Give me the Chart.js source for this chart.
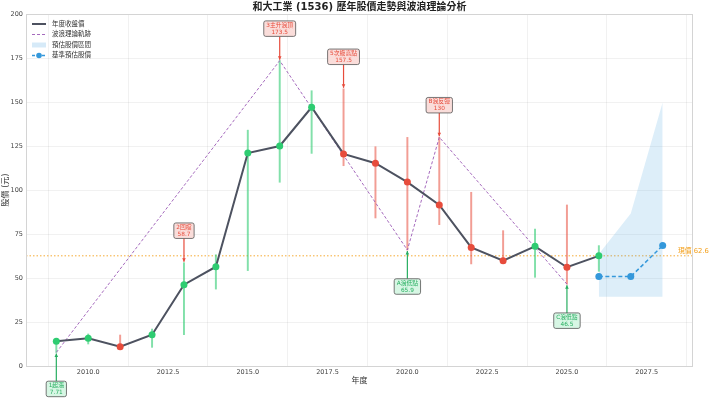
<!DOCTYPE html>
<html><head><meta charset="utf-8">
<script src="https://cdn.jsdelivr.net/npm/chart.js"></script>
<style>html,body{margin:0;padding:0;background:#fff}#wrap{width:710px;height:400px}</style>
</head><body><div id="wrap"><canvas id="c" width="710" height="400"></canvas></div>
<script>
// ---- data ----
const years   = [2009,2010,2011,2012,2013,2014,2015,2016,2017,2018,2019,2020,2021,2022,2023,2024,2025,2026];
const closes  = [14.0,15.7,11.0,17.8,46.2,56.4,121.0,125.0,147.0,120.5,115.2,104.5,91.5,67.4,59.8,68.0,56.1,62.6];
const highs   = [14.5,18.2,17.6,21.0,58.7,63.2,134.0,173.5,156.4,157.5,124.6,129.9,130.0,98.7,76.9,77.8,91.5,68.4];
const lows    = [7.71,12.5,10.6,10.6,17.8,43.7,54.2,104.4,120.8,113.8,84.1,65.9,80.3,58.0,59.8,50.4,46.5,53.8];
const waveYears  = [2009,2016,2020,2021,2025];
const waveValues = [7.71,173.5,65.9,130,46.5];
const annYears  = [2009,2013,2016,2018,2020,2021,2025];
const annValues = [7.71,58.7,173.5,157.5,65.9,130,46.5];
const annLabels = ['1起漲','2回檔','3主升浪頂','5次級高點','A浪低點','B浪反彈','C浪低點'];
const annKinds  = ['low','high','high','high','low','high','low'];
const forecastYears = [2026,2027,2028];
const forecastBase  = [50.8,50.8,68.4];
const forecastLow   = [39.4,39.4,39.4];
const forecastHigh  = [63.6,86.7,149.8];
const currentPrice = 62.6;
const yTicks = [0,25,50,75,100,125,150,175,200];
const xTickStep = 2.5;
const titleText = '和大工業 (1536) 歷年股價走勢與波浪理論分析';
const legendLabels = ['年度收盤價','波浪理論軌跡','預估股價區間','基準預估股價'];

// ---- styles ----
const FF = "'DejaVu Sans','Noto Sans CJK TC',sans-serif";
const GREEN = '#2ecc71', RED = '#e74c3c', LINE = '#4d5260', PURPLE = '#9b59b6', BLUE = '#3498db', ORANGE = '#f39c12';
const up = closes.map((c,i)=> i===0 || c >= closes[i-1]);
const ptColors = up.map(u=> u ? GREEN : RED);
const barColors = up.map(u=> u ? 'rgba(46,204,113,0.6)' : 'rgba(231,76,60,0.55)');

const pair = (xs, ys) => xs.map((v,i)=>({x:v, y:ys[i]}));

const deco = {
  id:'deco',
  beforeDatasetsDraw(chart){
    const {ctx, chartArea:a, scales:{y}} = chart;
    const py = y.getPixelForValue(currentPrice);
    ctx.save();
    ctx.strokeStyle = 'rgba(243,156,18,0.85)'; ctx.lineWidth = 1; ctx.setLineDash([1.5,2]);
    ctx.beginPath(); ctx.moveTo(a.left,py); ctx.lineTo(a.right,py); ctx.stroke();
    ctx.restore();
  },
  afterDraw(chart){
    const {ctx, chartArea:a, scales:{x,y}} = chart;
    ctx.save();
    // frame
    ctx.strokeStyle = '#d4d4d4'; ctx.lineWidth = 1;
    ctx.strokeRect(Math.round(a.left)+0.5, Math.round(a.top)+0.5, Math.round(a.right-a.left)-1, Math.round(a.bottom-a.top));
    // title
    ctx.fillStyle = '#222'; ctx.font = 'bold 10px ' + FF; ctx.textAlign='center'; ctx.textBaseline='middle';
    ctx.fillText(titleText, (a.left+a.right)/2, 7);
    // current price label
    const py = y.getPixelForValue(currentPrice);
    ctx.fillStyle = ORANGE; ctx.font = '6.8px ' + FF; ctx.textAlign='left';
    ctx.fillText('現價 ' + currentPrice, a.right - 15, py - 4.5);
    // legend
    const lx0 = a.left + 6, lx1 = a.left + 20, tx = a.left + 26;
    const rows = [10, 20.5, 31, 41.5].map(v=> a.top + v);
    ctx.font = '6.5px ' + FF; ctx.fillStyle = '#333';
    ctx.strokeStyle = LINE; ctx.lineWidth = 2; ctx.setLineDash([]);
    ctx.beginPath(); ctx.moveTo(lx0, rows[0]); ctx.lineTo(lx1, rows[0]); ctx.stroke();
    ctx.strokeStyle = PURPLE; ctx.lineWidth = 0.9; ctx.setLineDash([3,2]);
    ctx.beginPath(); ctx.moveTo(lx0, rows[1]); ctx.lineTo(lx1, rows[1]); ctx.stroke();
    ctx.setLineDash([]);
    ctx.fillStyle = 'rgba(52,152,219,0.2)'; ctx.fillRect(lx0, rows[2]-2.5, lx1-lx0, 5);
    ctx.strokeStyle = BLUE; ctx.lineWidth = 1.5; ctx.setLineDash([3,2]);
    ctx.beginPath(); ctx.moveTo(lx0, rows[3]); ctx.lineTo(lx1, rows[3]); ctx.stroke();
    ctx.setLineDash([]);
    ctx.fillStyle = BLUE; ctx.beginPath(); ctx.arc((lx0+lx1)/2, rows[3], 2.8, 0, Math.PI*2); ctx.fill();
    ctx.fillStyle = '#333'; ctx.textAlign = 'left'; ctx.textBaseline = 'middle';
    legendLabels.forEach((t,i)=> ctx.fillText(t, tx, rows[i]));
    // annotations
    annYears.forEach((yr,i)=>{
      const px = x.getPixelForValue(yr), pv = y.getPixelForValue(annValues[i]);
      const high = annKinds[i]==='high';
      const col = high ? '#e74c3c' : '#27ae60';
      const fill = high ? 'rgba(250,219,216,0.95)' : 'rgba(213,245,227,0.95)';
      const cy = high ? pv - 32 : pv + 36.5;
      ctx.font = '5.8px ' + FF;
      const l1 = annLabels[i], l2 = String(annValues[i]);
      const w = Math.max(ctx.measureText(l1).width, ctx.measureText(l2).width) + 5;
      const h = 15.5;
      const y0 = high ? cy + h/2 : cy - h/2;
      const tip = high ? pv - 1 : pv + 1;
      // arrow
      ctx.strokeStyle = col; ctx.lineWidth = 1.2; ctx.setLineDash([]);
      ctx.beginPath(); ctx.moveTo(px, y0); ctx.lineTo(px, tip); ctx.stroke();
      const dir = high ? 1 : -1;
      ctx.fillStyle = col; ctx.beginPath();
      ctx.moveTo(px, tip); ctx.lineTo(px-1.8, tip - dir*3.5); ctx.lineTo(px+1.8, tip - dir*3.5); ctx.closePath(); ctx.fill();
      // box
      ctx.beginPath();
      ctx.roundRect(px - w/2, cy - h/2, w, h, 2);
      ctx.fillStyle = fill; ctx.fill();
      ctx.strokeStyle = '#555'; ctx.lineWidth = 0.8; ctx.stroke();
      ctx.fillStyle = col; ctx.textAlign = 'center'; ctx.textBaseline = 'middle';
      ctx.fillText(l1, px, cy - 3.3);
      ctx.fillText(l2, px, cy + 3.7);
    });
    ctx.restore();
  }
};

new Chart(document.getElementById('c'), {
  type: 'line',
  data: {
    datasets: [
      { type:'line', label:'low', data: pair(forecastYears, forecastLow), borderWidth:0, pointRadius:0, fill:false, order:10 },
      { type:'line', label:legendLabels[2], data: pair(forecastYears, forecastHigh), borderWidth:0, pointRadius:0,
        backgroundColor:'rgba(52,152,219,0.17)', fill:'-1', order:9 },
      { type:'bar', label:'range', data: years.map((v,i)=>({x:v, y:[lows[i], highs[i]]})),
        backgroundColor: barColors, barThickness: 1.3, order:8 },
      { type:'line', label:legendLabels[1], data: pair(waveYears, waveValues), borderColor: PURPLE, borderWidth:0.9,
        borderDash:[3,2], pointRadius:0, fill:false, order:5 },
      { type:'line', label:legendLabels[0], data: pair(years, closes), borderColor: LINE, borderWidth:2,
        pointRadius:3.5, pointBackgroundColor: ptColors, pointBorderColor: ptColors, pointBorderWidth:0, fill:false, order:3 },
      { type:'line', label:legendLabels[3], data: pair(forecastYears, forecastBase), borderColor: BLUE, borderWidth:1.5,
        borderDash:[4,2.5], pointRadius:3.5, pointBackgroundColor: BLUE, pointBorderColor: BLUE, pointBorderWidth:0, fill:false, order:2 }
    ]
  },
  options: {
    responsive:false, devicePixelRatio:1, animation:false, events:[],
    layout:{ padding:{ left:0, right:17, top:14, bottom:0 } },
    plugins:{ legend:{display:false}, tooltip:{enabled:false}, title:{display:false} },
    scales:{
      x:{ type:'linear', min:2008.05, max:2028.95, offset:false,
          afterFit(s){ s.height = 34; },
          border:{display:false},
          grid:{ color:'rgba(0,0,0,0.07)', drawTicks:false, lineWidth:0.8 },
          ticks:{ stepSize:xTickStep, includeBounds:false, padding:2, color:'#444', font:{size:6.5, family:FF},
                  callback:(v)=> Number(v).toFixed(1), maxRotation:0 },
          title:{ display:true, text:'年度', color:'#333', font:{size:8, family:FF}, padding:{top:0,bottom:14} } },
      y:{ type:'linear', min:0, max:200,
          afterFit(s){ s.width = 26; },
          afterBuildTicks(s){ s.ticks = yTicks.map(v=>({value:v})); },
          border:{display:false},
          grid:{ color:'rgba(0,0,0,0.07)', drawTicks:false, lineWidth:0.8 },
          ticks:{ padding:3, color:'#444', font:{size:6.5, family:FF} },
          title:{ display:true, text:'股價 (元)', color:'#333', font:{size:8, family:FF}, padding:{top:1,bottom:0} } }
    }
  },
  plugins:[deco]
});
</script>
</body></html>
